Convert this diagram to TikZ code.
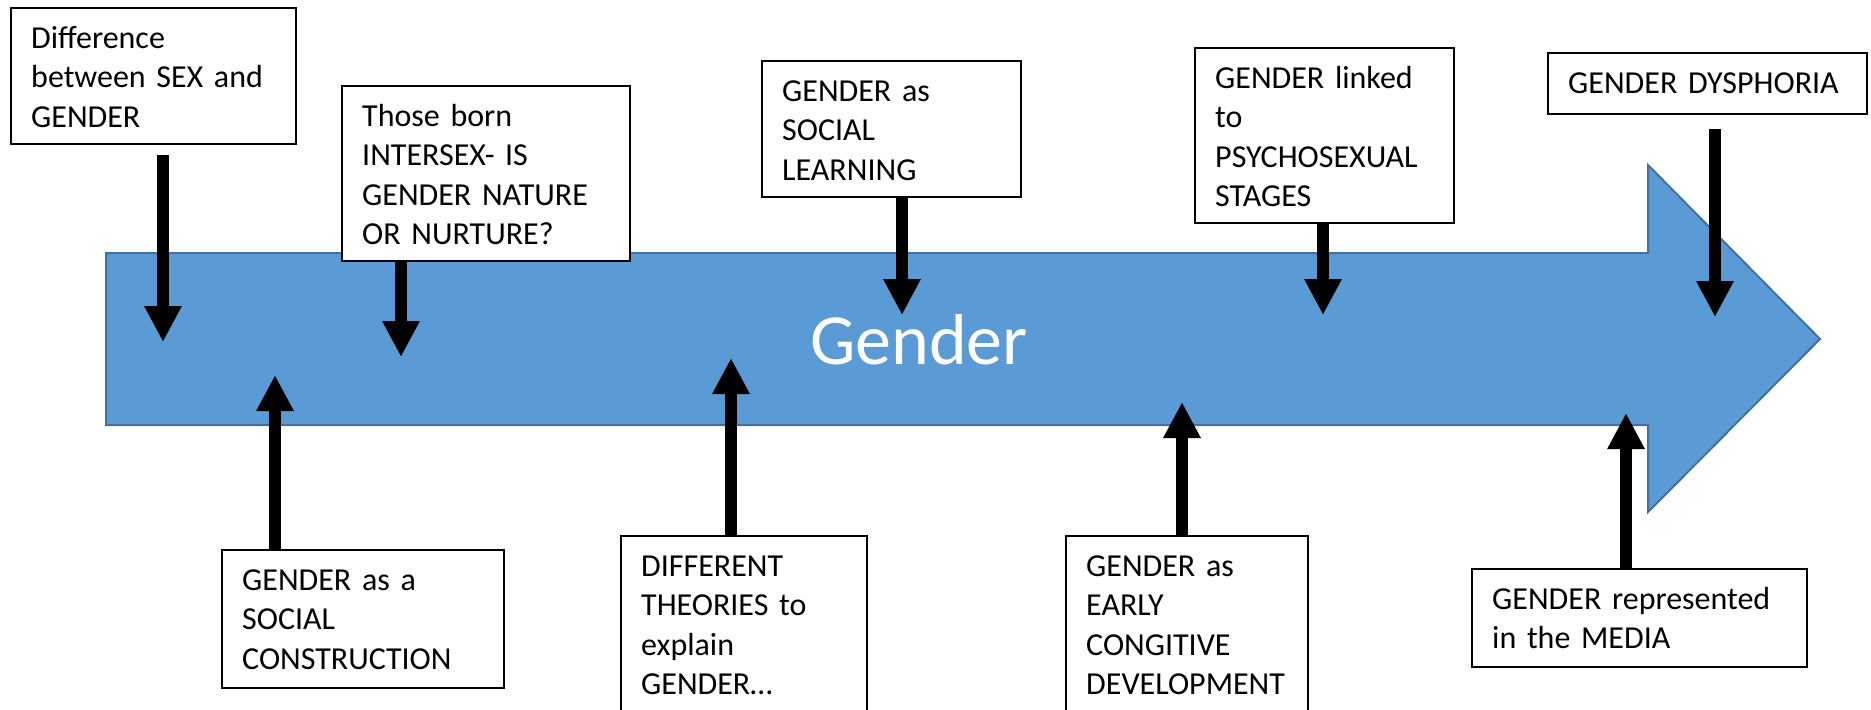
\documentclass[tikz,border=0pt]{standalone}
\usepackage{fontspec}
\setmainfont{Carlito}
\usetikzlibrary{arrows.meta}
\definecolor{arrowblue}{HTML}{5B9BD5}
\definecolor{arrowedge}{HTML}{41719C}
\tikzset{
  lbl/.style={draw=black, line width=1.2pt, fill=white, anchor=north west, align=left,
    inner xsep=10pt, inner ysep=0pt, text height=20pt,
    font=\fontsize{16}{19.7}\selectfont},
  conn/.style={line width=6pt, -{Triangle[width=17.5pt,length=18pt]}},
}
\begin{document}
\begin{tikzpicture}[x=0.5pt, y=-0.5pt]
\useasboundingbox (0,0) rectangle (1871,709);
\clip (0,0) rectangle (1871,709);
% big arrow
\draw[fill=arrowblue, draw=arrowedge, line width=1pt, line join=miter]
  (106,253) -- (1648,253) -- (1648,165) -- (1820,339) -- (1648,512) -- (1648,425) -- (106,425) -- cycle;
\node[anchor=base, text=white, font=\fontsize{36}{40}\selectfont] (title) at (919,364) {Gender};
% boxes
\node[lbl, text width=122.5pt, text depth=48pt] (b1) at (10,7) {Difference\\between SEX and\\GENDER};
\node[lbl, text width=124pt, text depth=67.5pt] (b2) at (341,85) {Those born\\INTERSEX- IS\\GENDER NATURE\\OR NURTURE?};
\node[lbl, text width=109.5pt, text depth=48pt] (b3) at (761,60) {GENDER as\\SOCIAL\\LEARNING};
\node[lbl, text width=109.5pt, text depth=67.5pt] (b4) at (1194,47) {GENDER linked\\to\\PSYCHOSEXUAL\\STAGES};
\node[lbl, text width=139.5pt, text depth=10.5pt] (b5) at (1547,52) {GENDER DYSPHORIA};
\node[lbl, text width=121pt, text depth=49pt] (b6) at (221,549) {GENDER as a\\SOCIAL\\CONSTRUCTION};
\node[lbl, text width=103pt, text depth=72.5pt] (b7) at (620,535) {DIFFERENT\\THEORIES to\\explain\\GENDER…};
\node[lbl, text width=101pt, text depth=72.5pt] (b8) at (1065,535) {GENDER as\\EARLY\\CONGITIVE\\DEVELOPMENT};
\node[lbl, text width=147.5pt, text depth=29pt] (b9) at (1471,568) {GENDER represented\\in the MEDIA};
% arrow targets
\coordinate (t1) at (163,342);
\coordinate (t2) at (401,357);
\coordinate (t3) at (902,315);
\coordinate (t4) at (1323,315);
\coordinate (t5) at (1715,317);
\coordinate (t6) at (275,375);
\coordinate (t7) at (731,358);
\coordinate (t8) at (1182,402);
\coordinate (t9) at (1626,413);
% connectors
\draw[conn, shorten <=5pt] (b1.south -| t1) -- (t1);
\draw[conn] (b2.south -| t2) -- (t2);
\draw[conn] (b3.south -| t3) -- (t3);
\draw[conn] (b4.south -| t4) -- (t4);
\draw[conn, shorten <=7pt] (b5.south -| t5) -- (t5);
\draw[conn] (b6.north -| t6) -- (t6);
\draw[conn] (b7.north -| t7) -- (t7);
\draw[conn] (b8.north -| t8) -- (t8);
\draw[conn] (b9.north -| t9) -- (t9);
\end{tikzpicture}
\end{document}
